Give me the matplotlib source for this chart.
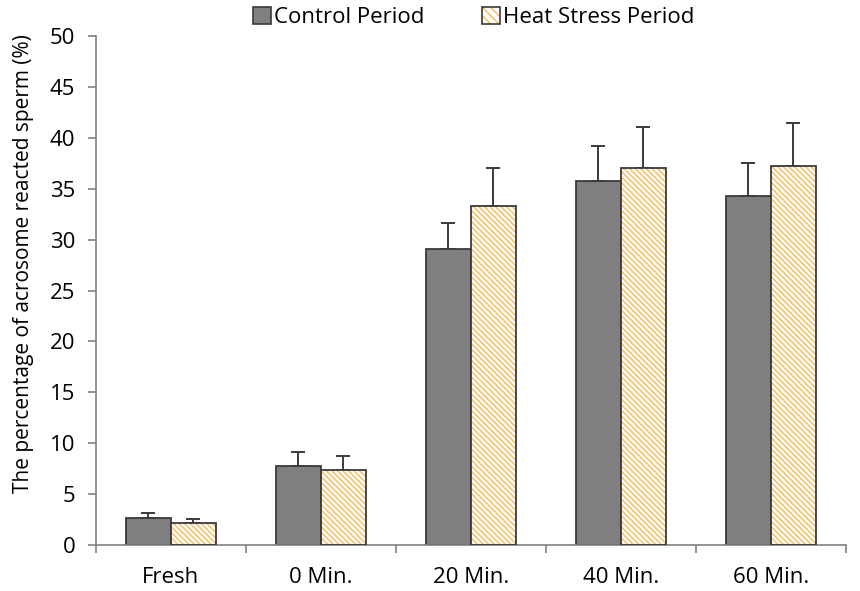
import matplotlib
matplotlib.use("Agg")
import matplotlib.pyplot as plt
import numpy as np
from matplotlib.patches import Patch

categories = ["Fresh", "0 Min.", "20 Min.", "40 Min.", "60 Min."]
control = [2.65, 7.8, 29.1, 35.8, 34.3]
control_err = [0.45, 1.35, 2.5, 3.4, 3.2]
heat = [2.2, 7.4, 33.3, 37.0, 37.2]
heat_err = [0.4, 1.35, 3.7, 4.1, 4.3]
yticks = [0, 5, 10, 15, 20, 25, 30, 35, 40, 45, 50]

plt.rcParams['font.family'] = ['Open Sans', 'DejaVu Sans']
plt.rcParams['hatch.linewidth'] = 1.2

fig = plt.figure(figsize=(8.6, 5.91), dpi=100)
ax = fig.add_axes([0.1116, 0.0778, 0.872, 0.861])

x = np.arange(len(categories))
w = 0.3
ctrl_color = "#7f7f7f"
edge = "#3a3a3a"
orange = "#f7c46e"
hatch = '\\\\\\\\\\\\'

ax.bar(x - w/2, control, w, color=ctrl_color, edgecolor=edge, linewidth=1.3, zorder=2)
ax.errorbar(x - w/2, control, yerr=[np.zeros(len(control)), control_err], fmt='none',
            ecolor="#3a3a3a", elinewidth=1.4, capsize=5, capthick=1.4, zorder=1)

ax.bar(x + w/2, heat, w, color="white", edgecolor=orange, hatch=hatch, linewidth=0, zorder=2)
ax.bar(x + w/2, heat, w, color="none", edgecolor=edge, linewidth=1.3, zorder=3)
ax.errorbar(x + w/2, heat, yerr=[np.zeros(len(heat)), heat_err], fmt='none',
            ecolor="#3a3a3a", elinewidth=1.4, capsize=5, capthick=1.4, zorder=1)

ax.set_xlim(-0.5, len(categories) - 0.5)
ax.set_ylim(0, 50)
ax.set_yticks(yticks)
ax.set_xticks(x)
ax.set_xticklabels(categories, fontsize=16)
ax.tick_params(axis='x', length=0, pad=16)
ax.set_xticks(np.arange(len(categories) + 1) - 0.5, minor=True)
ax.tick_params(axis='x', which='minor', length=6, color="#808080", width=1.2)
ax.tick_params(axis='y', labelsize=16, length=6, color="#808080", width=1.2, pad=9)
for s in ['top', 'right']:
    ax.spines[s].set_visible(False)
for s in ['left', 'bottom']:
    ax.spines[s].set_color("#808080")
    ax.spines[s].set_linewidth(1.2)
ax.set_ylabel("The percentage of acrosome reacted sperm (%)", fontsize=15)
ax.yaxis.set_label_coords(-0.083, 0.554)

handles = [Patch(facecolor=ctrl_color, edgecolor=edge, linewidth=1.2),
           (Patch(facecolor="white", edgecolor=orange, hatch='\\\\\\\\', linewidth=0),
            Patch(facecolor="none", edgecolor=edge, linewidth=1.2))]
leg = fig.legend(handles, ["Control Period", "Heat Stress Period"], loc='upper center',
                 bbox_to_anchor=(0.551, 1.022), ncol=2, frameon=False, fontsize=16,
                 handlelength=0.8, handleheight=0.8, handletextpad=0.15, columnspacing=2.6)

fig.savefig("out.png", dpi=100)
